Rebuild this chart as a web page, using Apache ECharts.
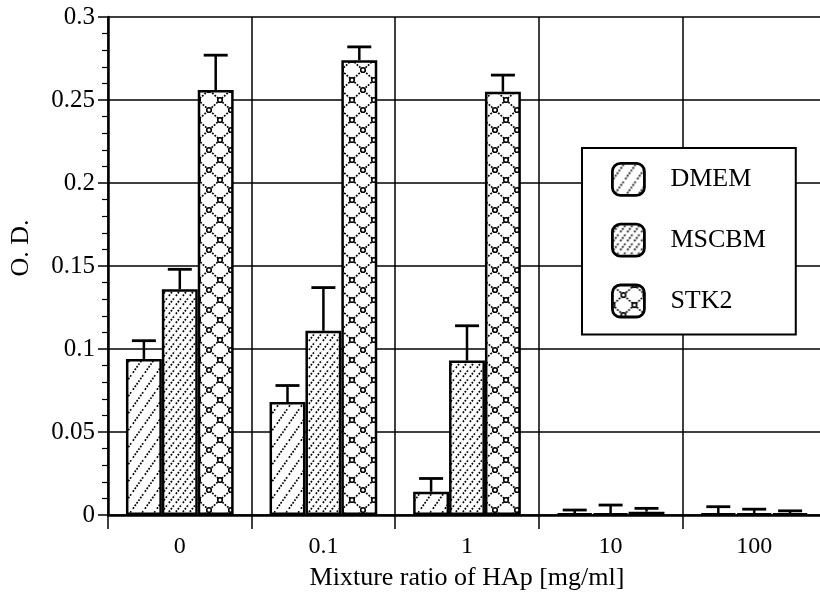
<!DOCTYPE html>
<html>
<head>
<meta charset="utf-8">
<script src="https://cdn.jsdelivr.net/npm/echarts@6/dist/echarts.min.js"></script>
<style>
  html, body { margin: 0; padding: 0; background: #fff; }
  #chart { width: 820px; height: 612px; }
</style>
</head>
<body>
<div id="chart"></div>
<script>
// HAp mixture ratios (mg/ml)
const categories = ['0', '0.1', '1', '10', '100'];
const seriesNames = ['DMEM', 'MSCBM', 'STK2'];

// Mean O.D. for each medium
const dmem  = [0.094, 0.068, 0.014, 0.001, 0.001];
const mscbm = [0.136, 0.111, 0.093, 0.001, 0.001];
const stk2  = [0.256, 0.274, 0.255, 0.002, 0.001];

// Upper error (+SD)
const dmemSd  = [0.011, 0.010, 0.008, 0.002, 0.004];
const mscbmSd = [0.012, 0.026, 0.021, 0.005, 0.0025];
const stk2Sd  = [0.021, 0.008, 0.010, 0.002, 0.0015];

const yTicks = { min: 0, max: 0.3, interval: 0.05 };

const SERIF = '"Liberation Serif", "DejaVu Serif", serif';

// Dotted hatch fills
function makeTile(w, h, draw) {
  const c = document.createElement('canvas');
  c.width = w; c.height = h;
  const ctx = c.getContext('2d');
  ctx.fillStyle = '#fff';
  ctx.fillRect(0, 0, w, h);
  ctx.strokeStyle = '#000';
  ctx.lineWidth = 1.7;
  ctx.setLineDash([1.8, 1.4]);
  draw(ctx, w, h);
  return c;
}
function diag(ctx, w, h) {
  ctx.beginPath();
  ctx.moveTo(-w, 2 * h); ctx.lineTo(2 * w, -h);
  ctx.stroke();
}
const dmemTile = makeTile(12, 17, diag);
const mscbmTile = makeTile(7, 9, diag);
const stk2Tile = makeTile(22, 20, (ctx, w, h) => {
  ctx.beginPath();
  ctx.moveTo(0, 0); ctx.lineTo(w, h);
  ctx.moveTo(w, 0); ctx.lineTo(0, h);
  ctx.stroke();
  ctx.setLineDash([]);
  ctx.lineWidth = 1.6;
  [[w / 2, h / 2], [0, 0], [w, 0], [0, h], [w, h]].forEach(([x, y]) => {
    ctx.beginPath();
    ctx.arc(x, y, 2.3, 0, Math.PI * 2);
    ctx.fillStyle = '#fff';
    ctx.fill();
    ctx.stroke();
  });
});
const fills = [dmemTile, mscbmTile, stk2Tile].map(t => ({ image: t, repeat: 'repeat' }));

const means = [dmem, mscbm, stk2];
const sds = [dmemSd, mscbmSd, stk2Sd];
const CAT_GAP = 0.25;

const barSeries = seriesNames.map((name, i) => ({
  name,
  type: 'bar',
  data: means[i],
  barGap: '0%',
  barCategoryGap: (CAT_GAP * 100) + '%',
  itemStyle: { color: fills[i], borderColor: '#000', borderWidth: 2.5 },
  z: 2
}));

const errSeries = seriesNames.map((name, i) => ({
  type: 'custom',
  name: name + ' SD',
  data: means[i].map((v, k) => [k, v, v + sds[i][k]]),
  z: 5,
  silent: true,
  renderItem(params, api) {
    const cat = api.value(0);
    const bandW = api.size([1, 0])[0];
    const barW = bandW * (1 - CAT_GAP) / 3;
    const base = api.coord([cat, api.value(1)]);
    const top = api.coord([cat, api.value(2)]);
    const x = base[0] + (i - 1) * barW;
    const cap = 12;
    return {
      type: 'group',
      children: [
        { type: 'line', shape: { x1: x, y1: base[1], x2: x, y2: top[1] },
          style: { stroke: '#000', lineWidth: 2.5 } },
        { type: 'line', shape: { x1: x - cap, y1: top[1], x2: x + cap, y2: top[1] },
          style: { stroke: '#000', lineWidth: 2.8 } }
      ]
    };
  }
}));

const chart = echarts.init(document.getElementById('chart'), null, { renderer: 'canvas' });
chart.setOption({
  animation: false,
  backgroundColor: '#fff',
  // the plot runs past the right edge of the page
  grid: { left: 108, width: 718, top: 17, bottom: 97, containLabel: false, outerBoundsMode: 'none' },
  legend: {
    data: seriesNames,
    orient: 'vertical',
    left: 582,
    top: 148,
    padding: [14, 30, 16, 29],
    itemGap: 26,
    itemWidth: 32,
    itemHeight: 32,
    icon: 'roundRect',
    borderColor: '#000',
    borderWidth: 2,
    backgroundColor: '#fff',
    itemStyle: { borderColor: '#000', borderWidth: 2.8 },
    textStyle: { fontFamily: SERIF, fontSize: 26, color: '#000', padding: [0, 0, 0, 21] }
  },
  xAxis: {
    type: 'category',
    data: categories,
    name: 'Mixture ratio of HAp [mg/ml]',
    nameLocation: 'middle',
    nameGap: 50,
    nameTextStyle: { fontFamily: SERIF, fontSize: 26, color: '#000' },
    axisLine: { lineStyle: { color: '#000', width: 2.5 } },
    axisTick: { show: true, length: 14, lineStyle: { color: '#000', width: 1.5 } },
    axisLabel: { fontFamily: SERIF, fontSize: 24, color: '#000', margin: 20 },
    splitLine: { show: true, lineStyle: { color: '#000', width: 1.5 } }
  },
  yAxis: {
    type: 'value',
    min: yTicks.min,
    max: yTicks.max,
    interval: yTicks.interval,
    name: 'O. D.',
    nameLocation: 'middle',
    nameRotate: 90,
    nameGap: 74,
    nameTextStyle: { fontFamily: SERIF, fontSize: 26, color: '#000', padding: [0, 0, 0, 36] },
    axisLine: { show: true, lineStyle: { color: '#000', width: 2.5 } },
    axisTick: { show: true, length: 10, lineStyle: { color: '#000', width: 1.5 } },
    minorTick: { show: true, splitNumber: 5, length: 6, lineStyle: { color: '#000', width: 1.2 } },
    axisLabel: { fontFamily: SERIF, fontSize: 25, color: '#000', margin: 13 },
    splitLine: { show: true, lineStyle: { color: '#000', width: 1.5 } }
  },
  series: [...barSeries, ...errSeries]
});
</script>
</body>
</html>
